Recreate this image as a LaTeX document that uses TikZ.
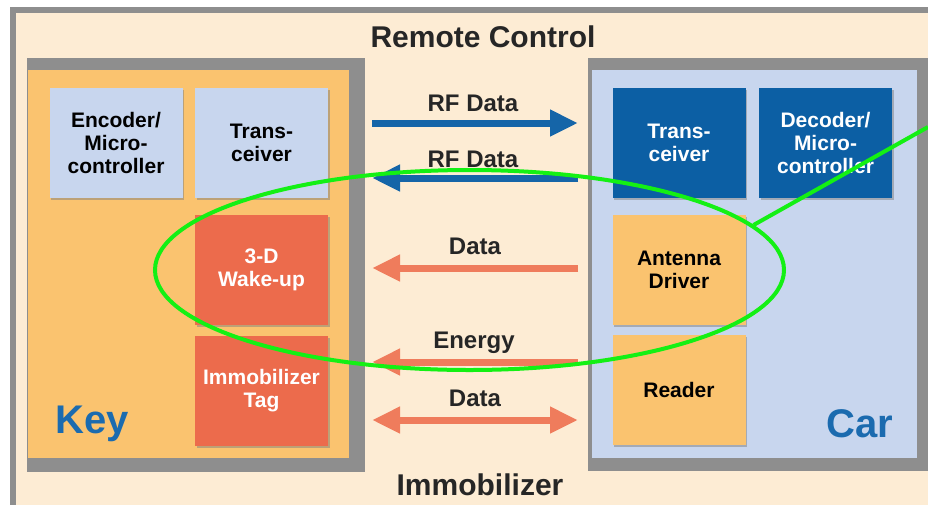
\documentclass[tikz,border=0pt]{standalone}
\usepackage{fontspec}
\setmainfont{Liberation Sans}
\usetikzlibrary{arrows.meta}
\usetikzlibrary{shapes.geometric}
\usetikzlibrary{shadows}

\definecolor{cream}{HTML}{FDECD4}
\definecolor{framegray}{HTML}{8E8E8E}
\definecolor{keyorange}{HTML}{FAC36F}
\definecolor{carblue}{HTML}{C8D6EE}
\definecolor{unitblue}{HTML}{0C5FA4}
\definecolor{unitred}{HTML}{EC6B4C}
\definecolor{rfblue}{HTML}{1565A8}
\definecolor{lfsalmon}{HTML}{EF7C5C}
\definecolor{namblue}{HTML}{1B6BAF}
\definecolor{ringgreen}{HTML}{14F014}

\tikzset{
  % big blocks: key and car
  block/.style = {
    rectangle,
    inner sep = 0,
    minimum width = #1,
    minimum height = 194pt
  },
  keybox/.style = {
    block = 160.5pt,
    fill = keyorange
  },
  carbox/.style = {
    block = 162.5pt,
    fill = carblue
  },
  % function units inside the blocks
  unit/.style = {
    rectangle,
    inner sep = 0,
    minimum width = 66.5pt,
    minimum height = 55pt,
    align = center,
    font = \fontsize{10.5}{11.5}\selectfont\bfseries,
    drop shadow = {shadow xshift=0.8pt, shadow yshift=-0.8pt,
      fill=black!50, opacity=.5}
  },
  paleunit/.style = {unit, fill = carblue, text = black},
  darkunit/.style = {unit, fill = unitblue, text = white},
  redunit/.style = {unit, fill = unitred, text = white},
  ambunit/.style = {unit, fill = keyorange, text = black},
  % texts
  title/.style = {
    font = \fontsize{15}{15}\selectfont\bfseries,
    text = black!85
  },
  lbl/.style = {
    font = \fontsize{12}{12}\selectfont\bfseries,
    text = black!85
  },
  sidename/.style = {
    font = \fontsize{20}{20}\selectfont\bfseries,
    text = namblue
  },
  % transfer arrows
  head/.style = {-{Triangle[length=14pt, width=12.5pt]}},
  link/.style = {
    line width = 3.5pt,
    {Triangle[length=14pt, width=12.5pt]}-{Triangle[length=14pt, width=12.5pt]}
  },
  rflink/.style = {link, draw = rfblue},
  lflink/.style = {link, draw = lfsalmon},
  % the marked area
  highlight/.style = {
    draw = ringgreen,
    line width = 2pt
  }
}

\begin{document}
\begin{tikzpicture}[x=0.5pt, y=-0.5pt]
  \useasboundingbox (0,0) rectangle (928,505);

  % frame
  \fill[framegray] (10,7) rectangle (928,505);
  \fill[cream] (16,13) rectangle (928,505);
  \fill[framegray] (27,58) rectangle (365,472);
  \fill[framegray] (588,58) rectangle (928,471);

  \node[keybox] (key) at (188.5,264) {};
  \node[carbox] (car) at (754.5,264) {};

  \node[title] (remote) at (483,37) {Remote Control};
  \node[title] (immo) at (480,485) {Immobilizer};
  \node[sidename] (key-name) at (92,424) {Key};
  \node[sidename] (car-name) at (860,424) {Car};

  % key side
  \node[paleunit] (encoder) at (116,143) {Encoder/\\Micro-\\controller};
  \node[paleunit] (key-trx) at (261.5,143) {Trans-\\ceiver};
  \node[redunit] (wakeup) at (261.5,270) {3-D\\Wake-up};
  \node[redunit] (tag) at (261.5,391) {Immobilizer\\Tag};

  % car side
  \node[darkunit] (car-trx) at (679,143) {Trans-\\ceiver};
  \node[darkunit] (decoder) at (825.5,143) {Decoder/\\Micro-\\controller};
  \node[ambunit] (antenna) at (679,270) {Antenna\\Driver};
  \node[ambunit] (reader) at (679,390) {Reader};

  % arrow ends
  \coordinate (rf-up-l) at (372,123);
  \coordinate (rf-up-r) at (578,123);
  \coordinate (rf-dn-l) at (372,178);
  \coordinate (rf-dn-r) at (578,178);
  \coordinate (wake-l) at (372,268);
  \coordinate (wake-r) at (578,268);
  \coordinate (energy-l) at (372,362);
  \coordinate (energy-r) at (578,362);
  \coordinate (tag-l) at (372,420);
  \coordinate (tag-r) at (578,420);

  \draw[rflink, head] (rf-up-l) -- (rf-up-r);
  \draw[rflink, head] (rf-dn-r) -- (rf-dn-l);
  \draw[lflink, head] (wake-r) -- (wake-l);
  \draw[lflink, head] (energy-r) -- (energy-l);
  \draw[lflink] (tag-l) -- (tag-r);

  \node[lbl] (rf-up-lbl) at (473,103) {RF Data};
  \node[lbl] (rf-dn-lbl) at (473,159) {RF Data};
  \node[lbl] (wake-lbl) at (475,246) {Data};
  \node[lbl] (energy-lbl) at (474,343) {Energy};
  \node[lbl] (tag-lbl) at (475,398) {Data};

  % marked area with pointer
  \node[highlight, ellipse, inner sep=0, minimum width=314.5pt,
    minimum height=100pt] (ring) at (469.5,270) {};
  \coordinate (ring-ptr) at (928,127);
  \draw[highlight] (ring.9) -- (ring-ptr);
\end{tikzpicture}
\end{document}
